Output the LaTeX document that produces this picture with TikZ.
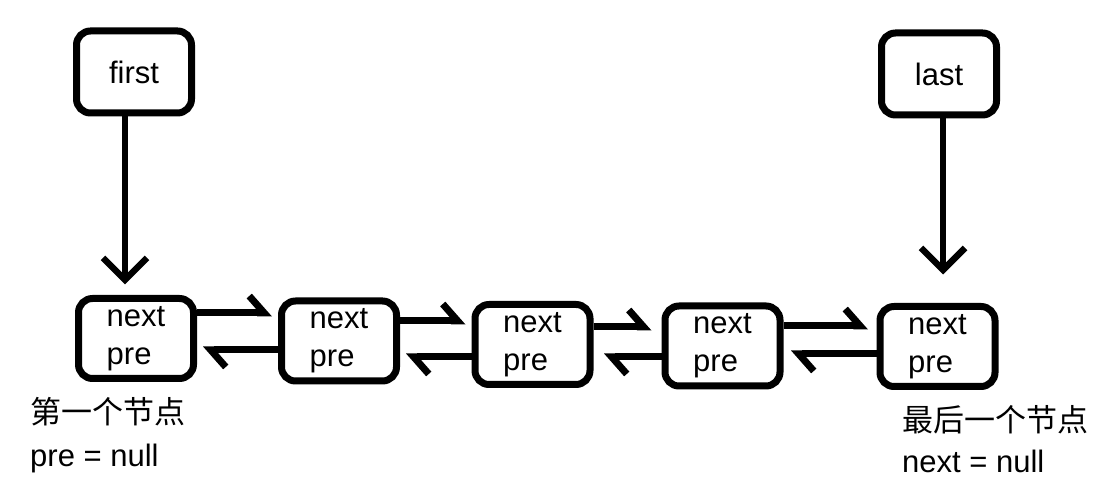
\documentclass[tikz,border=0pt]{standalone}
\usepackage{fontspec}
\setmainfont{Liberation Sans}
\newfontfamily\cjk{Noto Sans CJK SC}
\usetikzlibrary{arrows.meta, positioning}

\begin{document}
\begin{tikzpicture}[
    x=1pt, y=1pt,
    font=\fontsize{31}{38}\selectfont,
    pointer/.style={rectangle, draw=black, line width=7pt, rounded corners=14pt, minimum width=115pt, minimum height=82pt, align=center, inner sep=0pt},
    listnode/.style={rectangle, draw=black, line width=7pt, rounded corners=14pt, minimum width=115pt, minimum height=80pt, align=left, inner sep=0pt},
    down/.style={line width=6.5pt, -{Straight Barb[length=22pt, width=44pt]}},
    link/.style={line width=7pt, -{Straight Barb[left, length=15pt, width=34pt]}, shorten >=6pt},
    note/.style={inner sep=0pt, anchor=base west}
]
\useasboundingbox (0,0) rectangle (1116,502);

% Head and tail pointers
\node[pointer] (first) at (134,430) {first};
\node[pointer] (last) at (939,428) {last};

% List nodes
\node[listnode] (n1) at (136,163.5) {next\\pre};
\node[listnode] (n2) at (339,161) {next\\pre};
\node[listnode] (n3) at (532.5,157.5) {next\\pre};
\node[listnode] (n4) at (722.5,156) {next\\pre};
\node[listnode] (n5) at (937.5,155.5) {next\\pre};

\draw[down, shorten >=10.5pt] ([xshift=-9pt]first.south) -- ([xshift=-11pt]n1.north);
\draw[down, shorten >=28.5pt] ([xshift=4pt]last.south) -- ([xshift=5.5pt]n5.north);

% next links
\draw[link] (n1.east |- 0,189) -- (n2.west |- 0,189);
\draw[link] (n2.east |- 0,181) -- (n3.west |- 0,181);
\draw[link, shorten >=10pt] (n3.east |- 0,175) -- (n4.west |- 0,175);
\draw[link, shorten >=8.5pt] (n4.east |- 0,176) -- (n5.west |- 0,176);

% pre links
\draw[link] (n2.west |- 0,152) -- (n1.east |- 0,152);
\draw[link] (n3.west |- 0,145) -- (n2.east |- 0,145);
\draw[link, shorten >=10.5pt] (n4.west |- 0,145) -- (n3.east |- 0,145);
\draw[link, shorten >=7.5pt] (n5.west |- 0,148) -- (n4.east |- 0,148);

% Notes
\node[note] (headcn) at (30,78) {\cjk 第一个节点};
\node[note] (headnull) at (30,35) {pre = null};
\node[note] (tailcn) at (902,70) {\cjk 最后一个节点};
\node[note] (tailnull) at (902,29) {next = null};

\end{tikzpicture}
\end{document}
